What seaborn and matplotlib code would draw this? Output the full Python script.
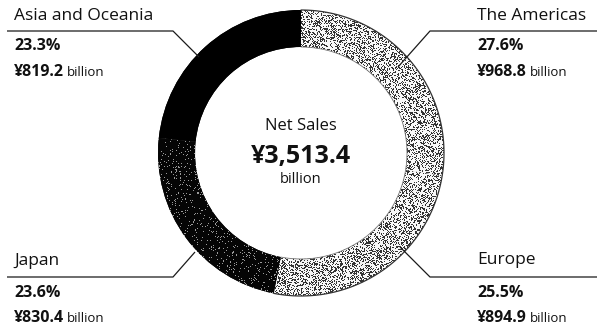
import numpy as np
import matplotlib
matplotlib.use("Agg")
import matplotlib.pyplot as plt
import seaborn as sns

# Net sales by region (billions of yen)
regions = ["The Americas", "Europe", "Japan", "Asia and Oceania"]
sales = [968.8, 894.9, 830.4, 819.2]
shares = ["27.6%", "25.5%", "23.6%", "23.3%"]
amounts = ["¥968.8", "¥894.9", "¥830.4", "¥819.2"]
total_label = "¥3,513.4"

sns.set_theme(style="white")
plt.rcParams["font.family"] = ["Open Sans", "DejaVu Sans"]

W, H = 601, 328
fig = plt.figure(figsize=(W / 100, H / 100), dpi=100)
ax = fig.add_axes([0, 0, 1, 1])


def Y(y):
    # top-down pixel row -> data y
    return H - y


cx, cy, r_out, ring = 301, 153, 143, 37
base_colors = ["#c4c4c4", "#c4c4c4", "#111111", "#050505"]
wedges, _ = ax.pie(sales, colors=base_colors, startangle=90, counterclock=False,
                   center=(cx, Y(cy)), radius=r_out, frame=True,
                   wedgeprops=dict(width=ring, edgecolor="none"))
ax.set_xlim(0, W)
ax.set_ylim(0, H)
ax.set_aspect("equal")
ax.axis("off")

# dithered print texture: (paper tone, dot tone, dot probability)
rng = np.random.default_rng(7)
dither = [(0.97, 0.2, 0.36), (0.97, 0.2, 0.36), (0.02, 0.6, 0.07), (0.0, 0.0, 0.0)]
ext = [cx - r_out - 2, cx + r_out + 2, Y(cy) - r_out - 2, Y(cy) + r_out + 2]
n = 2 * r_out + 4
for w, (paper, dot, p) in zip(wedges, dither):
    g = np.where(rng.random((n, n)) < p, dot, paper)
    img = ax.imshow(g, cmap="gray", vmin=0, vmax=1, extent=ext,
                    interpolation="nearest", zorder=2)
    img.set_clip_path(w)

# rims of the light segments
theta = np.linspace(90 - 360 * (sales[0] + sales[1]) / sum(sales), 90, 200)
for r, lw, col in [(r_out, 0.9, "#333333"), (r_out - ring, 0.6, "#777777")]:
    ax.plot(cx + r * np.cos(np.radians(theta)), Y(cy) + r * np.sin(np.radians(theta)),
            color=col, lw=lw, zorder=3)

# leader lines
leaders = [
    [(597, 31), (430, 31), (398, 67)],
    [(597, 277), (430, 277), (400, 247)],
    [(7, 277), (173, 277), (195, 252)],
    [(7, 31), (173, 31), (199, 57)],
]
for pts in leaders:
    xs = [p[0] for p in pts]
    ys = [Y(p[1]) for p in pts]
    ax.plot(xs, ys, color="#1a1a1a", lw=0.9, zorder=4, solid_capstyle="butt")

# region labels: (x, name baseline, share baseline, amount baseline)
label_pos = [
    (477, 20, 50, 76),
    (477, 264, 297, 322),
    (14, 265, 297, 322),
    (14, 20, 50, 76),
]
amount_texts = []
for name, share, amt, (x, yn, ys, ya) in zip(regions, shares, amounts, label_pos):
    ax.text(x, Y(yn), name, fontsize=12.5, color="#111111", va="baseline", ha="left")
    ax.text(x, Y(ys), share, fontsize=11.5, fontweight="bold", color="#111111",
            va="baseline", ha="left")
    t = ax.text(x, Y(ya), amt, fontsize=11.5, fontweight="bold", color="#111111",
                va="baseline", ha="left")
    amount_texts.append((t, ya))

fig.canvas.draw()
renderer = fig.canvas.get_renderer()
for t, ya in amount_texts:
    bb = t.get_window_extent(renderer)
    x_end = ax.transData.inverted().transform((bb.x1, bb.y0))[0]
    ax.text(x_end + 3, Y(ya), "billion", fontsize=9.5, color="#111111",
            va="baseline", ha="left")

# centre total
ax.text(cx, Y(130), "Net Sales", fontsize=12, color="#111111", ha="center", va="baseline")
ax.text(cx, Y(163), total_label, fontsize=18, fontweight="bold", color="#111111",
        ha="center", va="baseline")
ax.text(cx, Y(183), "billion", fontsize=10.5, color="#111111", ha="center", va="baseline")

fig.savefig("out.png", dpi=100, facecolor="white")
